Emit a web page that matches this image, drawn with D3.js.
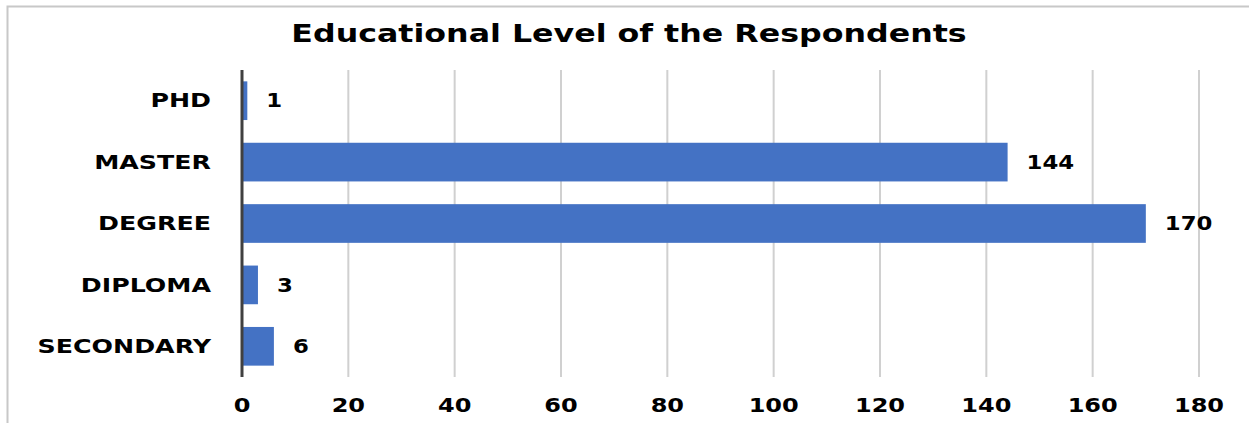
<!DOCTYPE html>
<html>
<head>
<meta charset="utf-8">
<script src="https://cdn.jsdelivr.net/npm/d3@7"></script>
<style>
body { margin: 0; background: white; }
text { font-family: "Century Gothic", "DejaVu Sans", sans-serif; font-weight: bold; fill: #000; }
</style>
</head>
<body>
<script>
var categories = ["PHD", "MASTER", "DEGREE", "DIPLOMA", "SECONDARY"];
var values = [1, 144, 170, 3, 6];
var ticks = [0, 20, 40, 60, 80, 100, 120, 140, 160, 180];
var title = "Educational Level of the Respondents";

var width = 1249, height = 423;

var svg = d3.select("body").append("svg")
    .attr("width", width)
    .attr("height", height);

// the reference font (Century Gothic) is much wider, so stretch the fallback
function wide(sel, s) {
  sel.attr("transform", function() {
    var t = d3.select(this);
    var tx = +t.attr("x"), ty = +t.attr("y");
    t.attr("x", 0).attr("y", 0);
    return "translate(" + tx + "," + ty + ") scale(" + s + ",1)";
  });
}

// chart frame
svg.append("path")
    .attr("d", "M7.5," + height + " L7.5,6.5 L" + width + ",6.5")
    .attr("fill", "none")
    .attr("stroke", "#c8c8c8")
    .attr("stroke-width", 2);

var x = d3.scaleLinear()
    .domain([0, 180])
    .range([242, 1199]);

var y = d3.scaleBand()
    .domain(categories)
    .range([70, 377])
    .paddingInner(0.37)
    .paddingOuter(0.185);

// grid
svg.append("g")
    .selectAll("line")
    .data(ticks.slice(1))
    .enter().append("line")
    .attr("x1", d => x(d)).attr("x2", d => x(d))
    .attr("y1", 70).attr("y2", 377)
    .attr("stroke", "#d0d0d0")
    .attr("stroke-width", 2);

// bars
svg.append("g")
    .selectAll("rect")
    .data(values)
    .enter().append("rect")
    .attr("x", x(0))
    .attr("y", (d, i) => y(categories[i]))
    .attr("width", d => x(d) - x(0))
    .attr("height", y.bandwidth())
    .attr("fill", "#4472c4");

// axis line
svg.append("line")
    .attr("x1", x(0)).attr("x2", x(0))
    .attr("y1", 70).attr("y2", 377)
    .attr("stroke", "#404040")
    .attr("stroke-width", 3);

// value labels
svg.append("g")
    .selectAll("text")
    .data(values)
    .enter().append("text")
    .attr("x", d => x(d) + 19)
    .attr("y", (d, i) => y(categories[i]) + y.bandwidth() / 2)
    .attr("dy", "0.35em")
    .style("font-size", "19px")
    .text(d => d)
    .call(wide, 1.2);

// category labels
svg.append("g")
    .selectAll("text")
    .data(categories)
    .enter().append("text")
    .attr("x", 211)
    .attr("y", d => y(d) + y.bandwidth() / 2)
    .attr("dy", "0.35em")
    .attr("text-anchor", "end")
    .style("font-size", "19px")
    .text(d => d)
    .call(wide, 1.33);

// x tick labels
svg.append("g")
    .selectAll("text")
    .data(ticks)
    .enter().append("text")
    .attr("x", d => x(d))
    .attr("y", 404.5)
    .attr("dy", "0.35em")
    .attr("text-anchor", "middle")
    .style("font-size", "20px")
    .text(d => d)
    .call(wide, 1.2);

svg.append("text")
    .attr("x", 629)
    .attr("y", 34)
    .attr("dy", "0.35em")
    .attr("text-anchor", "middle")
    .style("font-size", "24px")
    .text(title)
    .call(wide, 1.32);
</script>
</body>
</html>
